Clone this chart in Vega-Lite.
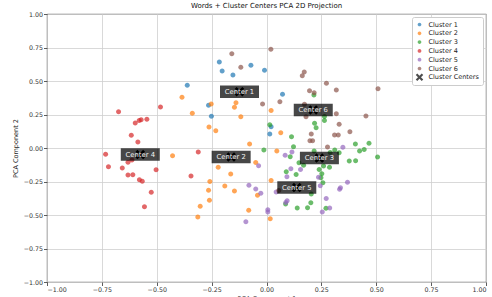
{
  "$schema": "https://vega.github.io/schema/vega-lite/v6.json",
  "autosize": {"type": "none"},
  "padding": {"left": 47, "top": 14, "right": 6, "bottom": 15},
  "width": 439,
  "height": 268,
  "background": "white",
  "title": {"text": "Words + Cluster Centers PCA 2D Projection", "fontSize": 7, "font": "DejaVu Sans", "fontWeight": "normal", "color": "#111", "offset": 2.5, "anchor": "middle"},
  "config": {
    "font": "DejaVu Sans",
    "view": {"stroke": "#333", "strokeWidth": 0.8},
    "axis": {"domain": false, "grid": true, "gridColor": "#cfcfcf", "gridWidth": 0.8, "tickColor": "#333", "tickSize": 3.5, "tickWidth": 0.8, "labelFontSize": 6.3, "labelColor": "#333333", "labelPadding": 1, "titleFontSize": 6.5, "titleFontWeight": "normal", "titleColor": "#222"},
    "legend": {"labelFontSize": 6.5, "labelColor": "#222", "padding": 3.5, "rowPadding": 0.8, "labelOffset": 5, "fillColor": "white", "strokeColor": "#cccccc", "cornerRadius": 2, "orient": "top-right", "offset": 3, "symbolStrokeWidth": 0, "symbolSize": 56}
  },
  "datasets": {
    "words": [
      {"x": -0.361, "y": 0.468, "cluster": "Cluster 1"},
      {"x": -0.215, "y": 0.642, "cluster": "Cluster 1"},
      {"x": -0.202, "y": 0.575, "cluster": "Cluster 1"},
      {"x": -0.153, "y": 0.545, "cluster": "Cluster 1"},
      {"x": -0.264, "y": 0.319, "cluster": "Cluster 1"},
      {"x": -0.251, "y": 0.237, "cluster": "Cluster 1"},
      {"x": -0.071, "y": 0.617, "cluster": "Cluster 1"},
      {"x": -0.009, "y": 0.58, "cluster": "Cluster 1"},
      {"x": 0.073, "y": 0.401, "cluster": "Cluster 1"},
      {"x": 0.021, "y": 0.159, "cluster": "Cluster 1"},
      {"x": 0.015, "y": 0.104, "cluster": "Cluster 1"},
      {"x": -0.385, "y": 0.378, "cluster": "Cluster 2"},
      {"x": -0.338, "y": 0.259, "cluster": "Cluster 2"},
      {"x": -0.252, "y": 0.328, "cluster": "Cluster 2"},
      {"x": -0.139, "y": 0.338, "cluster": "Cluster 2"},
      {"x": -0.146, "y": 0.304, "cluster": "Cluster 2"},
      {"x": -0.117, "y": 0.234, "cluster": "Cluster 2"},
      {"x": -0.262, "y": 0.157, "cluster": "Cluster 2"},
      {"x": -0.231, "y": 0.129, "cluster": "Cluster 2"},
      {"x": -0.077, "y": 0.03, "cluster": "Cluster 2"},
      {"x": 0.021, "y": 0.28, "cluster": "Cluster 2"},
      {"x": 0.065, "y": 0.114, "cluster": "Cluster 2"},
      {"x": -0.428, "y": -0.057, "cluster": "Cluster 2"},
      {"x": -0.22, "y": -0.144, "cluster": "Cluster 2"},
      {"x": -0.163, "y": -0.194, "cluster": "Cluster 2"},
      {"x": -0.258, "y": -0.25, "cluster": "Cluster 2"},
      {"x": -0.19, "y": -0.284, "cluster": "Cluster 2"},
      {"x": -0.264, "y": -0.316, "cluster": "Cluster 2"},
      {"x": -0.146, "y": -0.321, "cluster": "Cluster 2"},
      {"x": -0.26, "y": -0.39, "cluster": "Cluster 2"},
      {"x": -0.302, "y": -0.435, "cluster": "Cluster 2"},
      {"x": -0.313, "y": -0.515, "cluster": "Cluster 2"},
      {"x": -0.081, "y": -0.465, "cluster": "Cluster 2"},
      {"x": 0.047, "y": -0.022, "cluster": "Cluster 2"},
      {"x": -0.049, "y": -0.108, "cluster": "Cluster 2"},
      {"x": 0.021, "y": -0.243, "cluster": "Cluster 2"},
      {"x": -0.041, "y": -0.353, "cluster": "Cluster 2"},
      {"x": 0.017, "y": -0.528, "cluster": "Cluster 2"},
      {"x": 0.216, "y": 0.396, "cluster": "Cluster 3"},
      {"x": 0.264, "y": 0.235, "cluster": "Cluster 3"},
      {"x": 0.264, "y": 0.205, "cluster": "Cluster 3"},
      {"x": 0.015, "y": 0.174, "cluster": "Cluster 3"},
      {"x": 0.219, "y": 0.184, "cluster": "Cluster 3"},
      {"x": 0.226, "y": 0.151, "cluster": "Cluster 3"},
      {"x": 0.114, "y": 0.084, "cluster": "Cluster 3"},
      {"x": 0.123, "y": 0.01, "cluster": "Cluster 3"},
      {"x": 0.405, "y": 0.03, "cluster": "Cluster 3"},
      {"x": 0.467, "y": 0.035, "cluster": "Cluster 3"},
      {"x": -0.012, "y": -0.015, "cluster": "Cluster 3"},
      {"x": 0.445, "y": -0.011, "cluster": "Cluster 3"},
      {"x": 0.424, "y": -0.022, "cluster": "Cluster 3"},
      {"x": 0.506, "y": -0.067, "cluster": "Cluster 3"},
      {"x": 0.377, "y": -0.097, "cluster": "Cluster 3"},
      {"x": 0.406, "y": -0.095, "cluster": "Cluster 3"},
      {"x": 0.311, "y": -0.015, "cluster": "Cluster 3"},
      {"x": 0.29, "y": -0.034, "cluster": "Cluster 3"},
      {"x": 0.331, "y": -0.035, "cluster": "Cluster 3"},
      {"x": 0.217, "y": -0.022, "cluster": "Cluster 3"},
      {"x": 0.108, "y": -0.065, "cluster": "Cluster 3"},
      {"x": 0.148, "y": -0.11, "cluster": "Cluster 3"},
      {"x": 0.169, "y": -0.129, "cluster": "Cluster 3"},
      {"x": 0.135, "y": -0.198, "cluster": "Cluster 3"},
      {"x": 0.09, "y": -0.177, "cluster": "Cluster 3"},
      {"x": 0.26, "y": -0.134, "cluster": "Cluster 3"},
      {"x": 0.287, "y": -0.144, "cluster": "Cluster 3"},
      {"x": 0.24, "y": -0.16, "cluster": "Cluster 3"},
      {"x": 0.252, "y": -0.192, "cluster": "Cluster 3"},
      {"x": 0.248, "y": -0.222, "cluster": "Cluster 3"},
      {"x": 0.257, "y": -0.259, "cluster": "Cluster 3"},
      {"x": 0.204, "y": -0.343, "cluster": "Cluster 3"},
      {"x": 0.087, "y": -0.418, "cluster": "Cluster 3"},
      {"x": 0.202, "y": -0.408, "cluster": "Cluster 3"},
      {"x": 0.14, "y": -0.448, "cluster": "Cluster 3"},
      {"x": 0.187, "y": -0.446, "cluster": "Cluster 3"},
      {"x": 0.271, "y": -0.45, "cluster": "Cluster 3"},
      {"x": -0.674, "y": 0.271, "cluster": "Cluster 4"},
      {"x": -0.483, "y": 0.306, "cluster": "Cluster 4"},
      {"x": -0.545, "y": 0.214, "cluster": "Cluster 4"},
      {"x": -0.571, "y": 0.211, "cluster": "Cluster 4"},
      {"x": -0.58, "y": 0.205, "cluster": "Cluster 4"},
      {"x": -0.598, "y": 0.187, "cluster": "Cluster 4"},
      {"x": -0.616, "y": 0.095, "cluster": "Cluster 4"},
      {"x": -0.586, "y": 0.045, "cluster": "Cluster 4"},
      {"x": -0.733, "y": -0.047, "cluster": "Cluster 4"},
      {"x": -0.72, "y": -0.14, "cluster": "Cluster 4"},
      {"x": -0.657, "y": -0.149, "cluster": "Cluster 4"},
      {"x": -0.631, "y": -0.107, "cluster": "Cluster 4"},
      {"x": -0.613, "y": -0.09, "cluster": "Cluster 4"},
      {"x": -0.631, "y": -0.201, "cluster": "Cluster 4"},
      {"x": -0.609, "y": -0.199, "cluster": "Cluster 4"},
      {"x": -0.579, "y": -0.237, "cluster": "Cluster 4"},
      {"x": -0.566, "y": -0.249, "cluster": "Cluster 4"},
      {"x": -0.525, "y": -0.331, "cluster": "Cluster 4"},
      {"x": -0.556, "y": -0.438, "cluster": "Cluster 4"},
      {"x": -0.503, "y": -0.162, "cluster": "Cluster 4"},
      {"x": -0.344, "y": -0.209, "cluster": "Cluster 4"},
      {"x": -0.311, "y": -0.03, "cluster": "Cluster 4"},
      {"x": 0.348, "y": 0.005, "cluster": "Cluster 5"},
      {"x": 0.116, "y": -0.03, "cluster": "Cluster 5"},
      {"x": 0.085, "y": -0.054, "cluster": "Cluster 5"},
      {"x": -0.036, "y": -0.132, "cluster": "Cluster 5"},
      {"x": 0.111, "y": -0.154, "cluster": "Cluster 5"},
      {"x": 0.155, "y": -0.16, "cluster": "Cluster 5"},
      {"x": 0.093, "y": -0.214, "cluster": "Cluster 5"},
      {"x": -0.08, "y": -0.278, "cluster": "Cluster 5"},
      {"x": -0.049, "y": -0.306, "cluster": "Cluster 5"},
      {"x": -0.026, "y": -0.338, "cluster": "Cluster 5"},
      {"x": 0.044, "y": -0.328, "cluster": "Cluster 5"},
      {"x": 0.237, "y": -0.218, "cluster": "Cluster 5"},
      {"x": 0.245, "y": -0.281, "cluster": "Cluster 5"},
      {"x": 0.369, "y": -0.255, "cluster": "Cluster 5"},
      {"x": 0.337, "y": -0.296, "cluster": "Cluster 5"},
      {"x": 0.333, "y": -0.308, "cluster": "Cluster 5"},
      {"x": 0.272, "y": -0.377, "cluster": "Cluster 5"},
      {"x": 0.094, "y": -0.393, "cluster": "Cluster 5"},
      {"x": 0.088, "y": -0.407, "cluster": "Cluster 5"},
      {"x": 0.006, "y": -0.461, "cluster": "Cluster 5"},
      {"x": 0.006, "y": -0.478, "cluster": "Cluster 5"},
      {"x": 0.288, "y": -0.448, "cluster": "Cluster 5"},
      {"x": 0.254, "y": -0.478, "cluster": "Cluster 5"},
      {"x": -0.094, "y": -0.55, "cluster": "Cluster 5"},
      {"x": -0.158, "y": 0.704, "cluster": "Cluster 6"},
      {"x": -0.117, "y": 0.602, "cluster": "Cluster 6"},
      {"x": 0.02, "y": 0.737, "cluster": "Cluster 6"},
      {"x": 0.172, "y": 0.567, "cluster": "Cluster 6"},
      {"x": 0.163, "y": 0.54, "cluster": "Cluster 6"},
      {"x": 0.273, "y": 0.483, "cluster": "Cluster 6"},
      {"x": 0.196, "y": 0.428, "cluster": "Cluster 6"},
      {"x": 0.217, "y": 0.413, "cluster": "Cluster 6"},
      {"x": 0.318, "y": 0.433, "cluster": "Cluster 6"},
      {"x": 0.508, "y": 0.443, "cluster": "Cluster 6"},
      {"x": 0.061, "y": 0.346, "cluster": "Cluster 6"},
      {"x": -0.018, "y": 0.328, "cluster": "Cluster 6"},
      {"x": 0.173, "y": 0.326, "cluster": "Cluster 6"},
      {"x": 0.18, "y": 0.234, "cluster": "Cluster 6"},
      {"x": 0.318, "y": 0.256, "cluster": "Cluster 6"},
      {"x": 0.453, "y": 0.239, "cluster": "Cluster 6"},
      {"x": 0.331, "y": 0.177, "cluster": "Cluster 6"},
      {"x": 0.204, "y": 0.104, "cluster": "Cluster 6"},
      {"x": 0.31, "y": 0.097, "cluster": "Cluster 6"},
      {"x": 0.327, "y": 0.097, "cluster": "Cluster 6"},
      {"x": 0.38, "y": 0.122, "cluster": "Cluster 6"},
      {"x": 0.198, "y": 0.054, "cluster": "Cluster 6"},
      {"x": 0.21, "y": 0.054, "cluster": "Cluster 6"},
      {"x": 0.278, "y": 0.007, "cluster": "Cluster 6"},
      {"x": 0.056, "y": -0.317, "cluster": "Cluster 6"}
    ],
    "centers": [
      {"x": -0.123, "y": 0.42, "label": "Center 1", "cluster": "Cluster Centers"},
      {"x": -0.161, "y": -0.067, "label": "Center 2", "cluster": "Cluster Centers"},
      {"x": 0.241, "y": -0.075, "label": "Center 3", "cluster": "Cluster Centers"},
      {"x": -0.575, "y": -0.049, "label": "Center 4", "cluster": "Cluster Centers"},
      {"x": 0.138, "y": -0.295, "label": "Center 5", "cluster": "Cluster Centers"},
      {"x": 0.213, "y": 0.284, "label": "Center 6", "cluster": "Cluster Centers"}
    ]
  },
  "encoding": {
    "x": {"field": "x", "type": "quantitative", "scale": {"domain": [-1, 1], "nice": false, "zero": false}, "axis": {"values": [-1, -0.75, -0.5, -0.25, 0, 0.25, 0.5, 0.75, 1], "format": ".2f", "title": "PCA Component 1", "titlePadding": 2.5, "labelColor": "#333333"}},
    "y": {"field": "y", "type": "quantitative", "scale": {"domain": [-1, 1], "nice": false, "zero": false}, "axis": {"values": [-1, -0.75, -0.5, -0.25, 0, 0.25, 0.5, 0.75, 1], "format": ".2f", "title": "PCA Component 2", "titlePadding": 5}}
  },
  "layer": [
    {
      "data": {"name": "words"},
      "mark": {"type": "point", "filled": true, "opacity": 0.7, "strokeWidth": 0, "size": 100},
      "encoding": {
        "color": {"field": "cluster", "type": "nominal", "scale": {"domain": ["Cluster 1", "Cluster 2", "Cluster 3", "Cluster 4", "Cluster 5", "Cluster 6", "Cluster Centers"], "range": ["#1f77b4", "#ff7f0e", "#2ca02c", "#d62728", "#9467bd", "#8c564b", "#000000"]}, "legend": {"title": null}},
        "shape": {"field": "cluster", "type": "nominal", "scale": {"domain": ["Cluster 1", "Cluster 2", "Cluster 3", "Cluster 4", "Cluster 5", "Cluster 6", "Cluster Centers"], "range": ["M0.5,0A0.5,0.5,0,1,1,-0.5,0A0.5,0.5,0,1,1,0.5,0Z", "M0.5,0A0.5,0.5,0,1,1,-0.5,0A0.5,0.5,0,1,1,0.5,0Z", "M0.5,0A0.5,0.5,0,1,1,-0.5,0A0.5,0.5,0,1,1,0.5,0Z", "M0.5,0A0.5,0.5,0,1,1,-0.5,0A0.5,0.5,0,1,1,0.5,0Z", "M0.5,0A0.5,0.5,0,1,1,-0.5,0A0.5,0.5,0,1,1,0.5,0Z", "M0.5,0A0.5,0.5,0,1,1,-0.5,0A0.5,0.5,0,1,1,0.5,0Z", "M-1,-0.6L-0.6,-1L0,-0.4L0.6,-1L1,-0.6L0.4,0L1,0.6L0.6,1L0,0.4L-0.6,1L-1,0.6L-0.4,0Z"]}, "legend": {"title": null}}
      }
    },
    {
      "data": {"name": "centers"},
      "mark": {"type": "point", "filled": true, "opacity": 1, "strokeWidth": 0, "size": 90},
      "encoding": {
        "color": {"field": "cluster", "type": "nominal", "legend": {"title": null}},
        "shape": {"field": "cluster", "type": "nominal", "legend": {"title": null}}
      }
    },
    {
      "data": {"name": "centers"},
      "mark": {"type": "point", "filled": true, "shape": "M-1,-0.32H1V0.32H-1Z", "size": 1521, "color": "#000000", "fillOpacity": 0.72, "strokeWidth": 0},
      "encoding": {}
    },
    {
      "data": {"name": "centers"},
      "mark": {"type": "text", "color": "#f2f2f2", "fontSize": 6.8, "align": "center", "baseline": "middle"},
      "encoding": {"text": {"field": "label"}}
    }
  ]
}
